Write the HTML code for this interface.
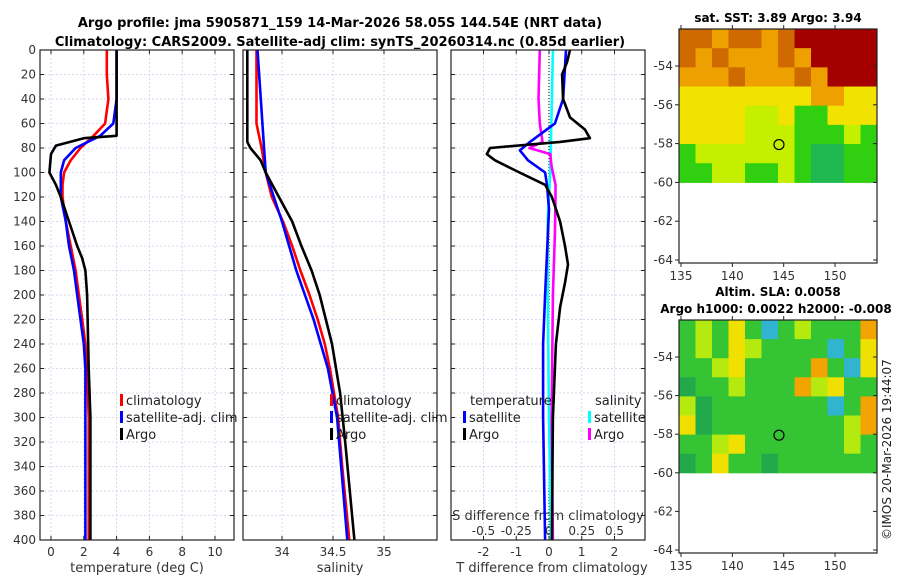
<!DOCTYPE html>
<html><head><meta charset="utf-8"><style>
body{margin:0;background:#fff;}
svg{display:block;font-family:"DejaVu Sans","Liberation Sans",sans-serif;}
</style></head><body>
<svg id="fig" width="900" height="580" viewBox="0 0 900 580">
<text x="340" y="27" text-anchor="middle" font-size="13" font-weight="bold">Argo profile: jma 5905871_159 14-Mar-2026 58.05S 144.54E (NRT data)</text>
<text x="340" y="46" text-anchor="middle" font-size="13" font-weight="bold">Climatology: CARS2009. Satellite-adj clim: synTS_20260314.nc (0.85d earlier)</text>
<text x="778" y="22" text-anchor="middle" font-size="12" font-weight="bold">sat. SST: 3.89 Argo: 3.94</text>
<text x="778" y="296" text-anchor="middle" font-size="12" font-weight="bold">Altim. SLA: 0.0058</text>
<text x="776" y="313" text-anchor="middle" font-size="12" font-weight="bold">Argo h1000: 0.0022 h2000: -0.008</text>
<text transform="translate(891,540) rotate(-90)" font-size="12" fill="#222">©IMOS 20-Mar-2026 19:44:07</text>
<g id="g"></g>
</svg>
<script>
// ---- data ----
const depthTicks=[0,20,40,60,80,100,120,140,160,180,200,220,240,260,280,300,320,340,360,380,400];
const tempTicks=[0,2,4,6,8,10];
const salTicks=[34,34.5,35];
const tdiffTicks=[-2,-1,0,1,2];
const sdiffTicks=[-0.5,-0.25,0,0.25,0.5];
const tClimDepth=[0,20,40,60,70,80,90,100,110,120,140,160,180,200,220,240,260,300,400];
const tClim=[3.4,3.4,3.5,3.3,2.6,1.8,1.2,0.8,0.7,0.7,0.9,1.2,1.5,1.7,1.9,2.1,2.2,2.3,2.3];
const tSatDepth=[0,40,60,70,80,90,100,120,140,160,180,200,220,240,260,300,400];
const tSat=[4.0,4.0,3.8,3.0,1.5,0.8,0.6,0.6,0.9,1.1,1.4,1.6,1.8,2.0,2.1,2.1,2.1];
const tArgoDepth=[0,70,72,78,85,100,110,120,140,160,170,180,200,260,300,400];
const tArgo=[4.0,4.0,2.0,0.3,0.0,-0.1,0.3,0.6,1.1,1.6,1.9,2.1,2.2,2.3,2.4,2.4];
const sClimDepth=[0,60,80,100,120,140,160,180,200,220,240,260,300,340,400];
const sClim=[33.75,33.75,33.80,33.84,33.90,34.01,34.10,34.18,34.27,34.35,34.42,34.47,34.55,34.59,34.66];
const sSatDepth=[0,100,140,180,220,260,300,400];
const sSat=[33.76,33.84,34.0,34.14,34.31,34.45,34.54,34.64];
const sArgoDepth=[0,75,80,90,100,120,140,160,180,200,240,280,320,400];
const sArgo=[33.66,33.66,33.69,33.79,33.84,33.97,34.10,34.19,34.29,34.37,34.49,34.57,34.62,34.71];
const dTArgoDepth=[0,10,20,40,55,65,72,75,80,85,90,100,110,120,140,160,175,190,210,240,300,400];
const dTArgo=[0.64,0.55,0.4,0.43,0.64,1.1,1.25,0.34,-1.8,-1.9,-1.65,-0.9,-0.12,0.09,0.34,0.49,0.58,0.49,0.34,0.21,0.12,0.09];
const dTSatDepth=[0,40,60,75,82,90,100,110,130,200,240,300,400];
const dTSat=[0.52,0.43,0.18,-0.58,-0.89,-0.64,-0.12,-0.06,0,-0.12,-0.18,-0.18,-0.12];
const dSSatDepth=[0,100,140,200,300,400];
const dSSat=[0.03,0.01,-0.01,-0.01,0,0.015];
const dSArgoDepth=[0,40,60,75,80,85,95,110,120,150,200,300,400];
const dSArgo=[-0.07,-0.08,-0.07,-0.05,-0.15,0.01,0.02,0.05,0.05,0.045,0.03,0.02,0.03];
const sstRows=["OOoOOoORRRRR","OoOoooOoRRRR","oooOoooOoRRR","YYYYYYYYooYY","YYYYyyYGGYYY","YYYYyyyGGGyG","GyyyyyyGggGG","GGyyGGyGggGG"];
const slaRows=["GyGYGcGyGGGo","GyGYyGGGGcGY","GGyYGGGGoGcY","dGGyGGGoyYGG","ydGGGGGGGcGo","YdGGGGGGGGyo","GGyYGGGGGGyG","dGYGGdGGGGGG"];
const mapLatTicks=[-54,-56,-58,-60,-62,-64];
const mapLonTicks=[135,140,145,150];
const floatLon=144.54, floatLat=-58.05;

// ---- helpers ----
const NS="http://www.w3.org/2000/svg";
const G=document.getElementById('g');
function mk(tag,attrs,parent){const e=document.createElementNS(NS,tag);for(const k in attrs)e.setAttribute(k,attrs[k]);(parent||G).appendChild(e);return e;}
const Y0=50,Y1=540;
const yD=d=>Y0+(d/400)*(Y1-Y0);
const panels=[
 {x0:40,x1:234,ticks:tempTicks,sx:v=>51+v*16.4,title:"temperature (deg C)",name:"temperature-panel"},
 {x0:243,x1:437,ticks:salTicks,sx:v=>282+(v-34)*102,title:"salinity",name:"salinity-panel"},
 {x0:451,x1:645,ticks:tdiffTicks,sx:v=>549+v*32.75,title:"T difference from climatology",name:"difference-panel"}];
const sdx=v=>549+v*131;

panels.forEach((p,i)=>{
  const grp=mk('g',{});
  
  
  depthTicks.forEach(d=>{
    const l=mk('line',{x1:p.x0,x2:p.x1,y1:yD(d),y2:yD(d),stroke:'#c8cfe8','stroke-width':0.8,'stroke-dasharray':'2,2'},grp);
    
    
    mk('line',{x1:p.x0,x2:p.x0+4,y1:yD(d),y2:yD(d),stroke:'#222'},grp);
    mk('line',{x1:p.x1,x2:p.x1-4,y1:yD(d),y2:yD(d),stroke:'#222'},grp);
  });
  p.ticks.forEach(v=>{
    const x=p.sx(v);
    mk('line',{x1:x,x2:x,y1:Y0,y2:Y1,stroke:'#c8cfe8','stroke-width':0.8,'stroke-dasharray':'2,2'},grp);
    mk('line',{x1:x,x2:x,y1:Y1,y2:Y1-4,stroke:'#222'},grp);
    mk('line',{x1:x,x2:x,y1:Y0,y2:Y0+4,stroke:'#222'},grp);
    const t=mk('text',{x:x,y:556,'text-anchor':'middle','font-size':12,fill:'#333'},grp);
    t.textContent=v;
    
    
  });
  const t=mk('text',{x:(p.x0+p.x1)/2+(i==2?4:0),y:572,'text-anchor':'middle','font-size':13,fill:'#333'},grp);
  t.textContent=p.title;
  
  
});
depthTicks.forEach(d=>{
  const t=mk('text',{x:36,y:yD(d)+4,'text-anchor':'end','font-size':12,fill:'#333'});
  t.textContent=d;
  
  
});
// S diff secondary axis
const st=mk('text',{x:548,y:520,'text-anchor':'middle','font-size':13,fill:'#333'});
st.textContent="S difference from climatology";


sdiffTicks.forEach(v=>{
  const t=mk('text',{x:sdx(v),y:535,'text-anchor':'middle','font-size':12,fill:'#333'});
  t.textContent=v===0?'0':String(v).replace('0.','0.').replace(/^(-?)0\./,'$10.');
  
  
});
function series(ds,vs,sx,color,name,w){
  const pts=ds.map((d,i)=>sx(vs[i]).toFixed(1)+','+yD(d).toFixed(1)).join(' ');
  const pl=mk('polyline',{points:pts,fill:'none',stroke:color,'stroke-width':w||2.6,'stroke-linejoin':'round'});
  
  
}
const px=panels.map(p=>p.sx);
series(tClimDepth,tClim,px[0],'#f00','temp-climatology-line');
series(tSatDepth,tSat,px[0],'#00f','temp-satellite-line');
series(tArgoDepth,tArgo,px[0],'#000','temp-argo-line');
series(sClimDepth,sClim,px[1],'#f00','sal-climatology-line');
series(sSatDepth,sSat,px[1],'#00f','sal-satellite-line');
series(sArgoDepth,sArgo,px[1],'#000','sal-argo-line');
mk('line',{x1:549,x2:549,y1:Y0,y2:Y1,stroke:'#000','stroke-width':1,'stroke-dasharray':'1,2'});
series(dSSatDepth,dSSat,sdx,'#0ff','s-diff-satellite-line');
series(dSArgoDepth,dSArgo,sdx,'#f0f','s-diff-argo-line');
series(dTSatDepth,dTSat,px[2],'#00f','t-diff-satellite-line');
series(dTArgoDepth,dTArgo,px[2],'#000','t-diff-argo-line');
// frames
panels.forEach(p=>{mk('rect',{x:p.x0,y:Y0,width:p.x1-p.x0,height:Y1-Y0,fill:'none',stroke:'#222','stroke-width':1.2});});
// legends
function leg(x,y,color,label,name){
  mk('rect',{x:x,y:y-11,width:3,height:12,fill:color});
  const t=mk('text',{x:x+6,y:y,'font-size':13,fill:'#222'});
  t.textContent=label;
  
  
}
leg(120,405,'#f00','climatology','legend-climatology');
leg(120,422,'#00f','satellite-adj. clim','legend-satellite-adj');
leg(120,439,'#000','Argo','legend-argo');
leg(330,405,'#f00','climatology','legend-climatology-sal');
leg(330,422,'#00f','satellite-adj. clim','legend-satellite-adj-sal');
leg(330,439,'#000','Argo','legend-argo-sal');
const lt=mk('text',{x:470,y:405,'font-size':13,fill:'#222'});lt.textContent='temperature';


const ls=mk('text',{x:595,y:405,'font-size':13,fill:'#222'});ls.textContent='salinity';


leg(463,422,'#00f','satellite','legend-t-satellite');
leg(463,439,'#000','Argo','legend-t-argo');
leg(588,422,'#0ff','satellite','legend-s-satellite');
leg(588,439,'#f0f','Argo','legend-s-argo');
// maps
const sstCol={R:'#a40000',O:'#cf6a00',o:'#eea000',Y:'#f2e200',y:'#c4f000',G:'#30d010',g:'#20b850'};
const slaCol={G:'#34c434',d:'#22aa4a',y:'#b4ea10',Y:'#f0e000',o:'#f2a400',c:'#30b4d0'};
function drawMap(top,bottom,rows,cols,name){
  const x0=679,x1=877,imgBottom=top+(bottom-top)*0.655;
  const lonX=l=>681+(l-135)*10.27;
  const latY=la=>top+37+(-54-la)*((bottom-top-37-3)/10);
  const grp=mk('g',{});
  
  
  const ny=rows.length,nx=rows[0].length;
  const cw=(x1-x0)/nx,ch=(latY(-60)-top)/ny;
  rows.forEach((r,j)=>{[...r].forEach((c,i)=>{
    mk('rect',{x:x0+i*cw,y:top+j*ch,width:cw+0.5,height:ch+0.5,fill:cols[c]},grp);
  });});
  mk('rect',{x:x0,y:top,width:x1-x0,height:bottom-top,fill:'none',stroke:'#222','stroke-width':1.2},grp);
  mapLatTicks.forEach(la=>{
    const y=latY(la);
    mk('line',{x1:x0-4,x2:x0,y1:y,y2:y,stroke:'#222'},grp);
    mk('line',{x1:x1,x2:x1-4,y1:y,y2:y,stroke:'#222'},grp);
    const t=mk('text',{x:673,y:y+4,'text-anchor':'end','font-size':12,fill:'#333'},grp);
    t.textContent=la;
    
    
  });
  mapLonTicks.forEach(lo=>{
    const x=lonX(lo);
    mk('line',{x1:x,x2:x,y1:bottom,y2:bottom+4,stroke:'#222'},grp);
    mk('line',{x1:x,x2:x,y1:top,y2:top-4,stroke:'#222'},grp);
    const t=mk('text',{x:x,y:bottom+17,'text-anchor':'middle','font-size':12,fill:'#333'},grp);
    t.textContent=lo;
    
    
  });
  const c=mk('circle',{cx:lonX(floatLon),cy:latY(floatLat),r:5,fill:'none',stroke:'#000','stroke-width':1.2},grp);
  
  
}
drawMap(29,263,sstRows,sstCol,'sst-map');
drawMap(320,553,slaRows,slaCol,'sla-map');
</script>
</body></html>
